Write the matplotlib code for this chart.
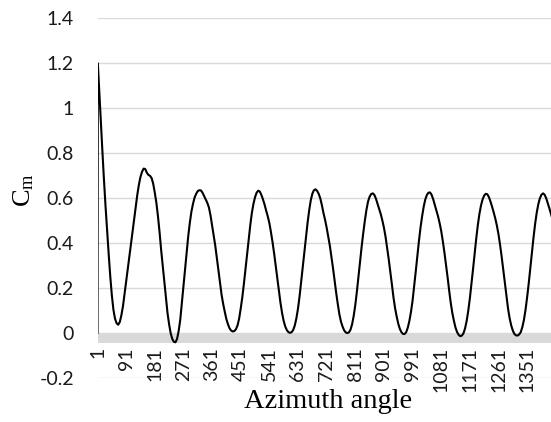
import matplotlib
matplotlib.use("Agg")
import matplotlib.pyplot as plt
import numpy as np

# ---- data ----
angles = np.concatenate([[1, 2], np.arange(6, 1432, 5)])
cm = [
    0.0, 1.20,
    1.09, 0.96, 0.82, 0.69, 0.57, 0.46, 0.355, 0.255, 0.17, 0.105,
    0.065, 0.045, 0.038, 0.05, 0.08, 0.12, 0.175, 0.23, 0.285, 0.34,
    0.395, 0.45, 0.505, 0.56, 0.615, 0.66, 0.695, 0.718, 0.732, 0.73,
    0.714, 0.704, 0.70, 0.69, 0.665, 0.625, 0.58, 0.52, 0.45, 0.37,
    0.30, 0.23, 0.16, 0.09, 0.04, 0.0, -0.025, -0.038, -0.04, -0.025,
    0.01, 0.06, 0.135, 0.215, 0.29, 0.365, 0.43, 0.49, 0.54, 0.575,
    0.603, 0.62, 0.632, 0.636, 0.635, 0.625, 0.61, 0.595, 0.58, 0.56,
    0.525, 0.48, 0.435, 0.39, 0.335, 0.28, 0.225, 0.17, 0.13, 0.095,
    0.063, 0.04, 0.022, 0.012, 0.008, 0.01, 0.018, 0.035, 0.065, 0.11,
    0.16, 0.22, 0.285, 0.35, 0.415, 0.48, 0.535, 0.575, 0.605, 0.625,
    0.634, 0.63, 0.615, 0.595, 0.572, 0.545, 0.52, 0.49, 0.45, 0.405,
    0.355, 0.30, 0.245, 0.19, 0.135, 0.09, 0.055, 0.03, 0.014, 0.005,
    0.002, 0.005, 0.015, 0.035, 0.067, 0.11, 0.165, 0.23, 0.295, 0.36,
    0.427, 0.49, 0.545, 0.59, 0.62, 0.636, 0.64, 0.633, 0.62, 0.60,
    0.57, 0.535, 0.505, 0.47, 0.43, 0.39, 0.34, 0.29, 0.235, 0.18,
    0.13, 0.085, 0.052, 0.03, 0.013, 0.004, 0.001, 0.004, 0.016, 0.04,
    0.077, 0.125, 0.185, 0.25, 0.318, 0.385, 0.445, 0.50, 0.548, 0.585,
    0.607, 0.619, 0.622, 0.615, 0.598, 0.575, 0.553, 0.53, 0.502, 0.47,
    0.43, 0.38, 0.33, 0.275, 0.218, 0.16, 0.112, 0.075, 0.043, 0.02,
    0.005, -0.003, -0.003, 0.005, 0.025, 0.055, 0.095, 0.145, 0.208, 0.275,
    0.343, 0.41, 0.47, 0.52, 0.563, 0.595, 0.615, 0.625, 0.626, 0.615,
    0.595, 0.57, 0.545, 0.52, 0.49, 0.455, 0.41, 0.36, 0.305, 0.25,
    0.19, 0.135, 0.09, 0.055, 0.025, 0.005, -0.007, -0.013, -0.01, 0.0,
    0.022, 0.055, 0.1, 0.155, 0.218, 0.285, 0.352, 0.42, 0.48, 0.53,
    0.568, 0.595, 0.612, 0.62, 0.618, 0.605, 0.585, 0.562, 0.537, 0.51,
    0.478, 0.44, 0.393, 0.34, 0.283, 0.225, 0.165, 0.11, 0.067, 0.035,
    0.012, -0.003, -0.009, -0.01, -0.005, 0.005, 0.028, 0.06, 0.105, 0.16,
    0.222, 0.29, 0.358, 0.425, 0.485, 0.535, 0.573, 0.60, 0.616, 0.622,
    0.616, 0.60, 0.578, 0.555, 0.53, 0.505,
]
x_tick_values = [1, 91, 181, 271, 361, 451, 541, 631, 721, 811, 901,
                 991, 1081, 1171, 1261, 1351]
y_tick_values = [-0.2, 0, 0.2, 0.4, 0.6, 0.8, 1, 1.2, 1.4]
y_tick_labels = ["-0.2", "0", "0.2", "0.4", "0.6", "0.8", "1", "1.2", "1.4"]

plt.rcParams["mathtext.fontset"] = "custom"
plt.rcParams["mathtext.rm"] = "Liberation Serif"
plt.rcParams["mathtext.it"] = "Liberation Serif:italic"

W, H = 551, 422
fig = plt.figure(figsize=(W / 100, H / 100), dpi=100)
left_px, right_px, top_px, bot_px = 97.5, 551, 18.3, 378.3
ax = fig.add_axes([left_px / W, 1 - bot_px / H,
                   (right_px - left_px) / W, (bot_px - top_px) / H])

ax.set_xlim(1, 1426)
ax.set_ylim(-0.2, 1.4)

for s in ax.spines.values():
    s.set_visible(False)
ax.spines["bottom"].set_position(("data", 0))

ax.set_yticks(y_tick_values)
ax.set_yticklabels(y_tick_labels, family="Lato", fontsize=14, color="#1a1a1a")
ax.set_xticks(x_tick_values)
ax.set_xticklabels([str(v) for v in x_tick_values], rotation=90,
                   family="Lato", fontsize=14, color="#1a1a1a")
ax.tick_params(axis="x", length=0, pad=10)
ax.tick_params(axis="y", length=0, pad=17)

ax.yaxis.grid(True, color="#d9d9d9", lw=1.0)
ax.set_axisbelow(True)

ax.axhspan(-0.042, 0, color="#d9d9d9", lw=0, zorder=1.5)

ax.plot(angles, cm, color="black", lw=1.5, zorder=3,
        solid_joinstyle="round", solid_capstyle="round")

ax.set_ylabel(r"C$_{\mathrm{m}}$", family="Liberation Serif", fontsize=19)
ax.yaxis.set_label_coords((36 - left_px) / (right_px - left_px),
                          (bot_px - 190) / (bot_px - top_px))
ax.set_xlabel("Azimuth angle", family="Liberation Serif", fontsize=20.5)
ax.xaxis.set_label_coords((328 - left_px) / (right_px - left_px),
                          -(389.5 - bot_px) / (bot_px - top_px))

fig.savefig("out.png", dpi=100)
